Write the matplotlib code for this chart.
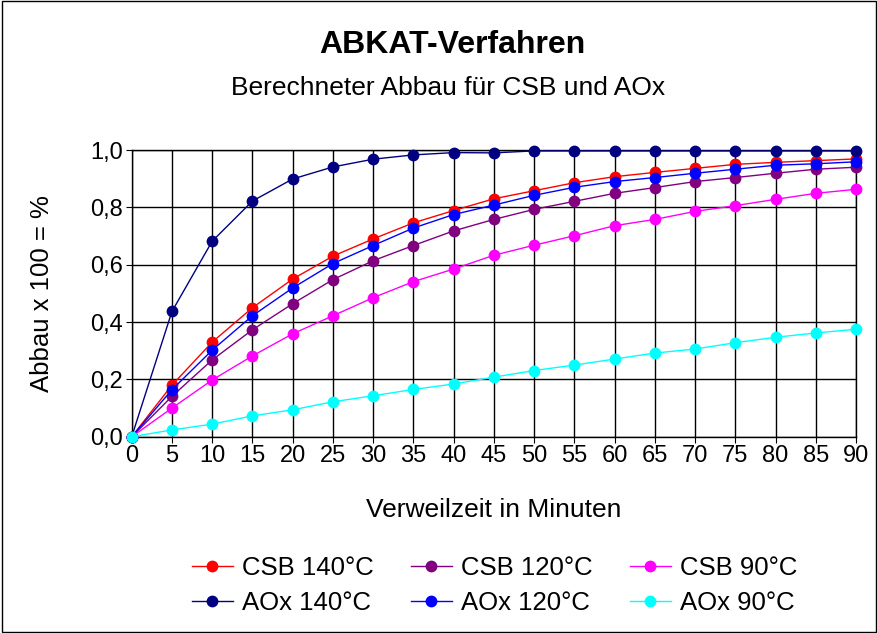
import numpy as np
import matplotlib.pyplot as plt
from matplotlib.patches import Rectangle

# Verweilzeit in Minuten
minuten = [0, 5, 10, 15, 20, 25, 30, 35, 40, 45, 50, 55, 60, 65, 70, 75, 80, 85, 90]

# berechneter Abbau
csb_140 = [0, 0.18, 0.33, 0.45, 0.55, 0.63, 0.69, 0.746, 0.789, 0.83, 0.858, 0.886, 0.907, 0.922, 0.936, 0.95, 0.957, 0.963, 0.969]
csb_120 = [0, 0.141, 0.268, 0.373, 0.464, 0.548, 0.614, 0.667, 0.718, 0.758, 0.793, 0.821, 0.849, 0.869, 0.89, 0.904, 0.919, 0.933, 0.94]
csb_90 = [0, 0.10, 0.198, 0.282, 0.359, 0.422, 0.485, 0.541, 0.585, 0.633, 0.668, 0.701, 0.736, 0.758, 0.786, 0.806, 0.828, 0.849, 0.863]
aox_140 = [0, 0.437, 0.682, 0.822, 0.899, 0.941, 0.968, 0.983, 0.991, 0.99, 0.997, 0.997, 0.997, 0.997, 0.997, 0.997, 0.997, 0.997, 0.997]
aox_120 = [0, 0.164, 0.302, 0.422, 0.519, 0.604, 0.667, 0.728, 0.775, 0.808, 0.842, 0.87, 0.89, 0.904, 0.919, 0.933, 0.947, 0.952, 0.959]
aox_90 = [0, 0.024, 0.044, 0.073, 0.094, 0.122, 0.143, 0.165, 0.184, 0.208, 0.231, 0.25, 0.271, 0.292, 0.306, 0.328, 0.347, 0.362, 0.375]

serien = [
    ('CSB 140°C', csb_140, '#FF0000'),
    ('CSB 120°C', csb_120, '#800080'),
    ('CSB 90°C', csb_90, '#FF00FF'),
    ('AOx 140°C', aox_140, '#000080'),
    ('AOx 120°C', aox_120, '#0000FF'),
    ('AOx 90°C', aox_90, '#00FFFF'),
]

plt.rcParams['font.family'] = ['Liberation Sans', 'DejaVu Sans']

fig = plt.figure(figsize=(8.78, 6.33), dpi=100)
ax = fig.add_axes([0.150, 0.310, 0.825, 0.453])

handles = {}
for name, werte, farbe in serien:
    h, = ax.plot(minuten, werte, color=farbe, lw=1, marker='o', markersize=8.5,
                 markeredgewidth=0, label=name, clip_on=False, zorder=3)
    handles[name] = h

ax.set_xlim(0, 90)
ax.set_ylim(0, 1.0)
ax.set_xticks(minuten)
yt = np.arange(0, 1.01, 0.2)
ax.set_yticks(yt)
ax.set_yticklabels([f'{v:.1f}'.replace('.', ',') for v in yt])
ax.tick_params(labelsize=17, length=4, color='black', pad=2)
ax.grid(True, color='black', lw=1)
for s in ax.spines.values():
    s.set_color('black')
    s.set_linewidth(1)

ax.set_xlabel('Verweilzeit in Minuten', fontsize=19, labelpad=22)
ax.set_ylabel('Abbau x 100 = %', fontsize=18.5, labelpad=26)

fig.text(0.515, 0.929, 'ABKAT-Verfahren', ha='center', va='center', fontsize=23, fontweight='bold')
fig.text(0.51, 0.861, 'Berechneter Abbau für CSB und AOx', ha='center', va='center', fontsize=19)

reihenfolge = ['CSB 140°C', 'AOx 140°C', 'CSB 120°C', 'AOx 120°C', 'CSB 90°C', 'AOx 90°C']
fig.legend([handles[n] for n in reihenfolge], reihenfolge, ncol=3, loc='center',
           bbox_to_anchor=(0.563, 0.075), frameon=False, fontsize=18.5,
           handlelength=1.6, columnspacing=1.45, labelspacing=0.4, handletextpad=0.35,
           borderpad=0, borderaxespad=0)

fig.patches.append(Rectangle((0.002, 0.002), 0.996, 0.996, transform=fig.transFigure,
                             fill=False, edgecolor='black', lw=1))

fig.savefig('out.png', dpi=100)
